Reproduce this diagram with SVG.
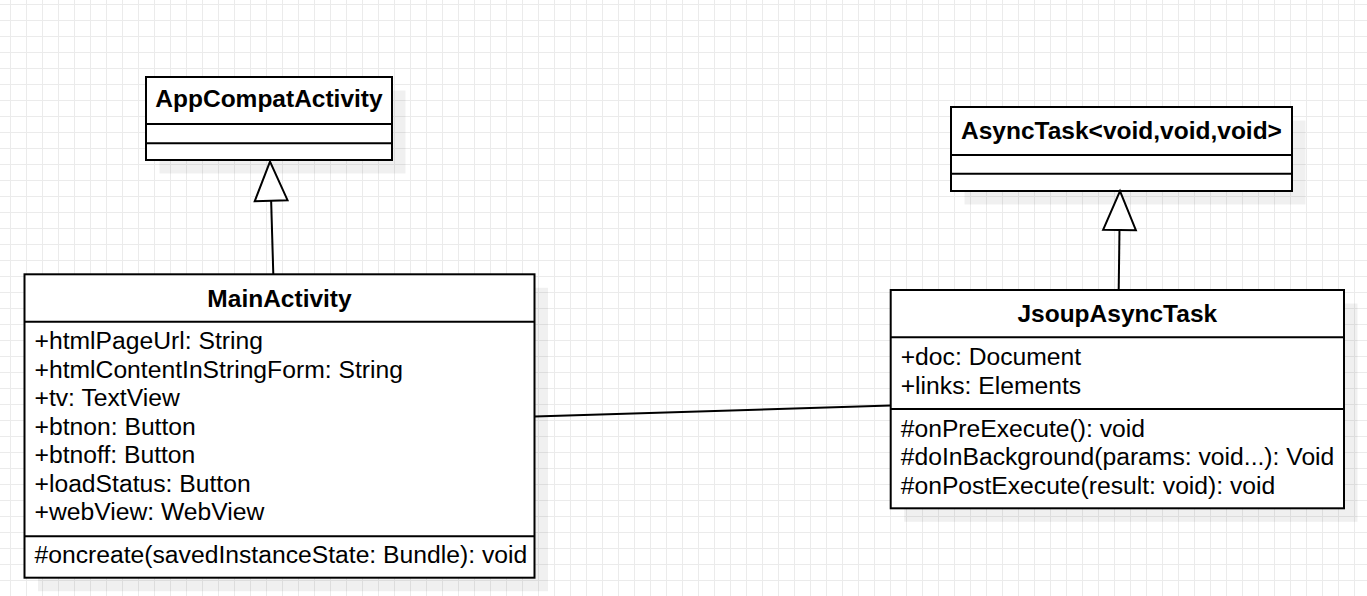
<svg xmlns="http://www.w3.org/2000/svg" width="1367" height="596" viewBox="0 0 1367 596">
<style>
.box{fill:#fff;stroke:#000;stroke-width:2}
.sep{stroke:#000;stroke-width:2}
.shadow{fill:#000;fill-opacity:0.06}
.title{font-family:"Liberation Sans",Arial,sans-serif;font-size:24.5px;font-weight:bold;fill:#000;text-anchor:middle}
.item{font-family:"Liberation Sans",Arial,sans-serif;font-size:24.7px;fill:#000}
.edge{fill:none;stroke:#000;stroke-width:2}
</style>
<defs>
<pattern id="grid" x="10" y="4" width="16" height="16" patternUnits="userSpaceOnUse">
<path d="M0.5 0 V16 M0 0.5 H16" stroke="#ebebeb" stroke-width="1" fill="none"/>
</pattern>
<marker id="inherit" markerUnits="userSpaceOnUse" markerWidth="44" markerHeight="38" viewBox="-2 -2 44 38" refX="39" refY="16.4" orient="auto" overflow="visible">
<path d="M0 0 L39 16.4 L0 32.8 Z" fill="#fff" stroke="#000" stroke-width="2" stroke-linejoin="miter"/>
</marker>
</defs>
<rect width="1367" height="596" fill="#fff"/>
<rect width="1367" height="596" fill="url(#grid)"/>

<g id="AppCompatActivity">
<rect class="shadow" x="159.5" y="90.5" width="246" height="83"/>
<rect class="box" x="146" y="77" width="246" height="83"/>
<line class="sep" x1="146" y1="124" x2="392" y2="124"/>
<line class="sep" x1="146" y1="143.3" x2="392" y2="143.3"/>
<text class="title" x="269" y="107">AppCompatActivity</text>
</g>

<g id="AsyncTask">
<rect class="shadow" x="964.5" y="120.5" width="341" height="84"/>
<rect class="box" x="951" y="107" width="341" height="84"/>
<line class="sep" x1="951" y1="155" x2="1292" y2="155"/>
<line class="sep" x1="951" y1="173.7" x2="1292" y2="173.7"/>
<text class="title" x="1121.5" y="139">AsyncTask&lt;void,void,void&gt;</text>
</g>

<g id="MainActivity">
<rect class="shadow" x="38" y="287.8" width="510" height="303.4"/>
<rect class="box" x="24.5" y="274.3" width="510" height="303.4"/>
<line class="sep" x1="24.5" y1="321.7" x2="534.5" y2="321.7"/>
<line class="sep" x1="24.5" y1="536.3" x2="534.5" y2="536.3"/>
<text class="title" x="279.5" y="306.5">MainActivity</text>
<text class="item" x="34.5" y="349.3">+htmlPageUrl: String</text>
<text class="item" x="34.5" y="377.8">+htmlContentInStringForm: String</text>
<text class="item" x="34.5" y="406.3">+tv: TextView</text>
<text class="item" x="34.5" y="434.8">+btnon: Button</text>
<text class="item" x="34.5" y="463.3">+btnoff: Button</text>
<text class="item" x="34.5" y="491.8">+loadStatus: Button</text>
<text class="item" x="34.5" y="520.3">+webView: WebView</text>
<text class="item" x="34.5" y="563.3">#oncreate(savedInstanceState: Bundle): void</text>
</g>

<g id="JsoupAsyncTask">
<rect class="shadow" x="904.2" y="303.5" width="453.3" height="218.3"/>
<rect class="box" x="890.7" y="290" width="453.3" height="218.3"/>
<line class="sep" x1="890.7" y1="337.3" x2="1344" y2="337.3"/>
<line class="sep" x1="890.7" y1="409" x2="1344" y2="409"/>
<text class="title" x="1117.3" y="321.5">JsoupAsyncTask</text>
<text class="item" x="900.7" y="365">+doc: Document</text>
<text class="item" x="900.7" y="393.5">+links: Elements</text>
<text class="item" x="900.7" y="436.7">#onPreExecute(): void</text>
<text class="item" x="900.7" y="465">#doInBackground(params: void...): Void</text>
<text class="item" x="900.7" y="493.5">#onPostExecute(result: void): void</text>
</g>

<g id="connectors">
<path class="edge" d="M273.3 274.3 L270 161.7" marker-end="url(#inherit)"/>
<path class="edge" d="M1118.7 290 L1120 191" marker-end="url(#inherit)"/>
<path class="edge" d="M534.5 416.5 L890.7 405.5"/>
</g>
</svg>
